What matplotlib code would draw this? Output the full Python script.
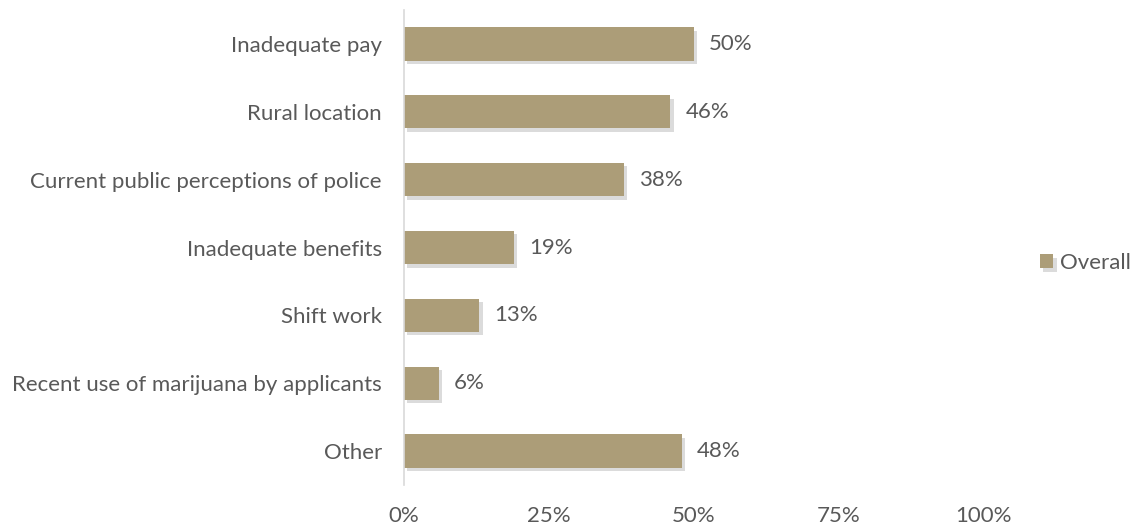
import matplotlib.pyplot as plt
import matplotlib.patheffects as pe
from matplotlib.ticker import FuncFormatter

# Data
categories = ['Inadequate pay', 'Rural location', 'Current public perceptions of police',
              'Inadequate benefits', 'Shift work', 'Recent use of marijuana by applicants', 'Other']
values = [50, 46, 38, 19, 13, 6, 48]
xticks = [0, 25, 50, 75, 100]

bar_color = '#AC9D78'
text_color = '#595959'

plt.rcParams['font.family'] = ['Lato', 'DejaVu Sans']
fs = 16

fig = plt.figure(figsize=(11.44, 5.27), dpi=100)
ax = fig.add_axes([404 / 1144, 42 / 527, (983 - 404) / 1144, 475 / 527])

y = list(range(len(categories)))
bars = ax.barh(y, values, height=0.49, color=bar_color, label='Overall')
for b in bars:
    b.set_path_effects([pe.SimplePatchShadow(offset=(2.5, -2.5), shadow_rgbFace='#9a9a9a', alpha=0.35),
                        pe.Normal()])

for yi, v in zip(y, values):
    ax.text(v + 2.6, yi, f'{v}%', va='center', ha='left', fontsize=fs, color=text_color)

ax.set_xlim(0, 100)
ax.set_ylim(6.5, -0.5)
ax.set_yticks(y)
ax.set_yticklabels(categories, fontsize=fs, color=text_color)
ax.set_xticks(xticks)
ax.xaxis.set_major_formatter(FuncFormatter(lambda v, p: f'{v:.0f}%'))
ax.tick_params(axis='x', labelsize=fs, labelcolor=text_color, length=0, pad=15)
ax.tick_params(axis='y', length=0, pad=16)

for s in ['top', 'right', 'bottom']:
    ax.spines[s].set_visible(False)
ax.spines['left'].set_color('#D9D9D9')
ax.spines['left'].set_linewidth(1.2)

leg = fig.legend(loc='center left', bbox_to_anchor=(1020 / 1144, 1 - 263 / 527), frameon=False,
                 fontsize=fs, handlelength=0.6, handleheight=0.6, handletextpad=0.3)
for t in leg.get_texts():
    t.set_color(text_color)

fig.savefig('out.png', dpi=100)
